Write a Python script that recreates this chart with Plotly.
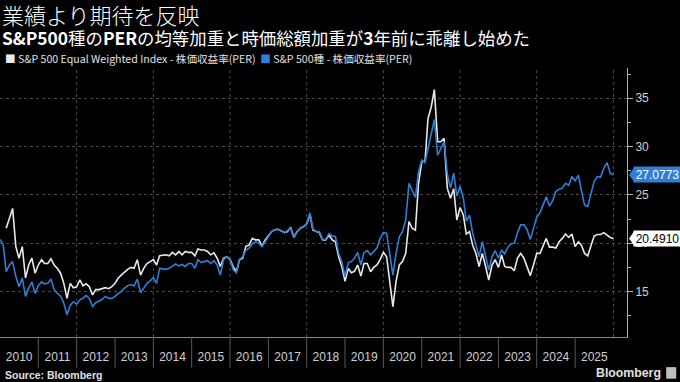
import plotly.graph_objects as go
import pandas as pd

# ---------------- data (monthly) ----------------
start_month = "2010-01-01"
n_months = 193

equal_weighted_per = [
    None, None, 21.55, 22.7, 23.6, 19.65, 18.45, 19.65, 16.4, 17.75,
    18.45, 16.9, 17.75, 18.3, 17.9, 17.9, 18.4, 17.75, 17.4, 16.9,
    15.85, 14.3, 15.85, 15.4, 15.5, 16.2, 15.6, 15.8, 15.5, 14.65,
    15.2, 15.2, 15.3, 15.4, 15.3, 15.5, 15.85, 16.4, 16.7, 17.05,
    17.3, 17.5, 17.4, 18.3, 16.7, 17.4, 17.9, 18.1, 18.3, 17.75,
    18.7, 18.75, 18.8, 18.7, 19.05, 18.8, 19.15, 18.8, 19.15, 19.05,
    19.05, 18.7, 19.4, 19.3, 19.3, 19.15, 18.8, 19.0, 18.45, 17.6,
    18.45, 18.6, 18.35, 17.55, 17.05, 18.3, 18.45, 19.7, 19.8, 20.5,
    20.35, 20.35, 19.7, 20.35, 20.75, 21.2, 21.4, 21.45, 21.3, 21.1,
    21.2, 21.65, 20.6, 21.2, 21.55, 21.7, 22.0, 23.0, 21.35, 21.2,
    21.1, 20.35, 20.35, 20.85, 20.35, 20.15, 18.6, 17.6, 16.05, 17.4,
    16.95, 17.1, 17.75, 16.6, 17.9, 17.9, 17.05, 17.5, 17.75, 18.3,
    19.05, 18.6, 16.2, 13.45, 16.05, 17.75, 18.1, 18.95, 22.25, 21.55,
    21.35, 26.2, 28.45, 28.45, 32.9, 34.1, 35.9, 30.5, 30.5, 30.85,
    25.7, 24.65, 25.65, 22.4, 23.7, 22.9, 20.95, 21.2, 19.8, 18.95,
    17.6, 18.95, 17.6, 16.2, 17.75, 18.3, 17.5, 18.8, 17.6, 17.5,
    17.5, 17.15, 18.45, 18.95, 18.45, 17.5, 16.65, 17.75, 18.95, 18.95,
    19.65, 20.5, 19.6, 19.6, 19.5, 20.15, 20.5, 20.95, 20.6, 20.95,
    19.65, 20.15, 19.8, 18.95, 18.7, 19.8, 20.75, 20.9, 20.9, 21.1,
    20.85, 20.6, 20.4910,
]

sp500_per = [
    20.4, 19.8, 17.05, 17.75, 18.1, 16.55, 15.5, 16.4, 14.5, 15.35,
    16.0, 14.8, 15.6, 16.0, 15.8, 15.85, 16.3, 15.2, 14.8, 14.55,
    13.8, 12.6, 13.6, 13.95, 13.7, 14.15, 14.3, 14.6, 14.3, 13.45,
    13.85, 14.05, 14.2, 14.5, 14.3, 14.3, 14.5, 14.8, 15.0, 15.35,
    15.6, 15.7, 15.6, 16.3, 14.9, 15.35, 15.85, 16.1, 16.45, 15.85,
    17.4, 17.35, 17.3, 17.4, 17.6, 17.85, 17.65, 17.8, 17.6, 17.9,
    17.9, 17.4, 18.3, 18.0, 18.1, 18.2, 17.9, 18.2, 17.75, 16.7,
    18.3, 18.6, 18.3, 17.25, 16.95, 18.3, 18.6, 19.3, 19.5, 19.95,
    20.15, 20.0, 19.65, 20.15, 20.7, 21.2, 21.4, 21.45, 21.3, 21.1,
    21.3, 21.55, 20.6, 21.2, 21.55, 21.7, 22.05, 23.15, 21.45, 21.2,
    21.2, 20.35, 20.4, 21.0, 20.75, 20.7, 18.95, 18.1, 16.55, 18.0,
    18.1, 18.45, 19.05, 17.75, 19.05, 19.25, 18.8, 19.15, 19.5, 20.5,
    21.1, 21.05, 18.95, 16.7, 18.95, 20.7, 21.2, 22.4, 26.2, 25.5,
    24.75, 27.4, 28.6, 28.35, 29.65, 31.2, 32.8, 29.1, 29.8, 30.5,
    27.2, 25.7, 27.25, 24.9, 25.9, 24.65, 22.3, 22.9, 21.05, 19.8,
    18.6, 20.15, 18.6, 17.25, 18.6, 19.25, 18.45, 19.3, 18.9, 19.6,
    19.95, 20.0, 21.05, 21.9, 21.9, 21.4, 20.4, 21.55, 22.7, 23.15,
    24.05, 24.8, 23.85, 24.4, 25.35, 25.6, 25.7, 26.2, 26.0, 26.9,
    26.45, 27.05, 25.5, 23.95, 23.8, 25.2, 26.4, 26.9, 26.85, 27.75,
    28.35, 27.25, 27.0773,
]

years = list(range(2010, 2027))
grid_years = [2012, 2014, 2016, 2018, 2020, 2022, 2024, 2026]
y_ticks = [15, 20, 25, 30, 35]
y_minor_ticks = [12.5, 17.5, 22.5, 27.5, 32.5, 37.5]

series_names = ["S&P 500 Equal Weighted Index - 株価収益率(PER)", "S&P 500種 - 株価収益率(PER)"]
title = "業績より期待を反映"
subtitle = "<b>S&P500</b>種の<b>PER</b>の均等加重と時価総額加重が<b>3</b>年前に乖離し始めた"
source = "Source: Bloomberg"

# ---------------- figure ----------------
WHITE = "#e9e9e9"
BLUE = "#2d7fd7"
CJK = "Noto Sans CJK JP, Noto Sans, sans-serif"
LAT = "Liberation Sans, Arial, sans-serif"

dates = pd.date_range(start_month, periods=n_months, freq="MS")

fig = go.Figure()
fig.add_trace(go.Scatter(x=dates, y=equal_weighted_per, mode="lines",
                         line=dict(color=WHITE, width=1.6), name=series_names[0],
                         showlegend=False, hoverinfo="skip"))
fig.add_trace(go.Scatter(x=dates, y=sp500_per, mode="lines",
                         line=dict(color=BLUE, width=1.6), name=series_names[1],
                         showlegend=False, hoverinfo="skip"))

shapes = []
# dotted vertical gridlines every two years
for yr in grid_years:
    shapes.append(dict(type="line", xref="x", yref="paper", x0=f"{yr}-01-01", x1=f"{yr}-01-01",
                       y0=0, y1=1, line=dict(color="#4a4a4a", width=1, dash="dot"), layer="below"))
# year separators below the axis
for yr in years[1:-1]:
    shapes.append(dict(type="line", xref="x", yref="paper", x0=f"{yr}-01-01", x1=f"{yr}-01-01",
                       y0=0, y1=-0.115, line=dict(color="#5a5a5a", width=1)))

# end-value tags (pointed left side)
last_white = equal_weighted_per[-1]
last_blue = sp500_per[-1]
for val, col in [(last_blue, BLUE), (last_white, "#ffffff")]:
    shapes.append(dict(type="path", xref="paper", yref="y", xsizemode="pixel", ysizemode="pixel",
                       xanchor=1, yanchor=val, path="M 2,0 L 7,7 L 7,-7 Z",
                       fillcolor=col, line=dict(width=0)))

# Bloomberg logo square
shapes.append(dict(type="rect", xref="paper", yref="paper", x0=1.0625, x1=1.0785,
                   y0=-0.112, y1=-0.155, fillcolor="#bdbdbd", line=dict(width=0)))

annotations = [
    dict(text=title, xref="paper", yref="paper", x=0.0, y=1.199, xanchor="left", yanchor="middle",
         showarrow=False, font=dict(family=CJK, size=22, color="#ffffff", weight=300)),
    dict(text=subtitle, xref="paper", yref="paper", x=0.0, y=1.114, xanchor="left", yanchor="middle",
         showarrow=False, font=dict(family=CJK, size=17.4, color="#ffffff")),
    dict(text=f'<span style="color:{WHITE}">■</span> {series_names[0]}  '
              f'<span style="color:{BLUE}">■</span> {series_names[1]}',
         xref="paper", yref="paper", x=0.005, y=1.037, xanchor="left", yanchor="middle",
         showarrow=False, font=dict(family=CJK, size=10.6, color="#e0e0e0")),
    dict(text=f"<b>{source}</b>", xref="paper", yref="paper", x=0.004, y=-0.142,
         xanchor="left", yanchor="middle", showarrow=False,
         font=dict(family=LAT, size=10.5, color="#e0e0e0")),
    dict(text="<b>Bloomberg</b>", xref="paper", yref="paper", x=1.058, y=-0.134,
         xanchor="right", yanchor="middle", showarrow=False,
         font=dict(family=LAT, size=12.3, color="#e0e0e0")),
    dict(text=f"{last_blue:.4f}", xref="paper", yref="y", x=1.0095, y=last_blue,
         xanchor="left", yanchor="middle", showarrow=False, bgcolor=BLUE,
         font=dict(family=LAT, size=12, color="#ffffff"), borderpad=1, width=45, height=13),
    dict(text=f"{last_white:.4f}", xref="paper", yref="y", x=1.0095, y=last_white,
         xanchor="left", yanchor="middle", showarrow=False, bgcolor="#ffffff",
         font=dict(family=LAT, size=12, color="#000000"), borderpad=1, width=45, height=13),
]

fig.update_layout(
    width=680, height=382,
    paper_bgcolor="#000000", plot_bgcolor="#000000",
    margin=dict(l=0, r=53, t=68, b=45),
    showlegend=False,
    shapes=shapes,
    annotations=annotations,
    xaxis=dict(type="date", range=["2010-01-01", "2026-05-10"], dtick="M12", tick0="2010-01-01",
               ticklabelmode="period", tickformat="%Y", ticks="", showgrid=False,
               showline=True, linecolor="#8a8a8a", linewidth=1, zeroline=False,
               tickfont=dict(family=LAT, size=12, color="#d0d0d0"), ticklabelstandoff=9),
    yaxis=dict(side="right", range=[10.3, 38.13], tickvals=y_ticks, ticks="outside", ticklen=5,
               tickcolor="#b0b0b0", showgrid=True, gridcolor="#4a4a4a", griddash="dot",
               showline=True, linecolor="#b0b0b0", linewidth=1, zeroline=False,
               tickfont=dict(family=LAT, size=12, color="#d0d0d0"),
               minor=dict(tickvals=y_minor_ticks, ticks="outside", ticklen=3,
                          tickcolor="#b0b0b0", showgrid=False)),
)

fig.write_html("out.html", config={"displayModeBar": False},
               post_script="document.body.style.margin='0';document.body.style.background='#000';")
